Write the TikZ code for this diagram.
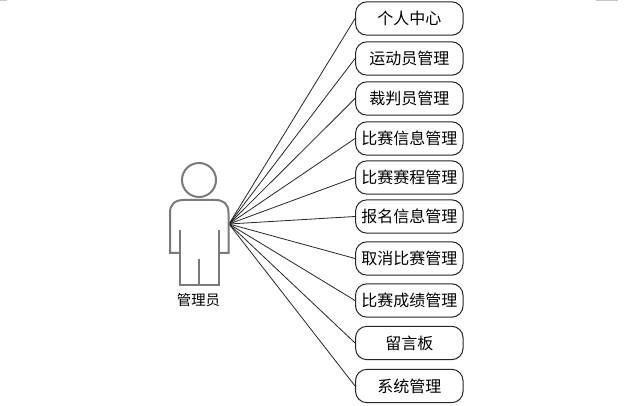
\documentclass[tikz,border=0pt]{standalone}
\usepackage{fontspec}
\newfontfamily\cjk{Noto Sans CJK SC}
\begin{document}
\begin{tikzpicture}[x=0.75pt,y=-0.75pt,
  fn/.style={draw=black!85,line width=0.75pt,rounded corners=8.5pt,minimum width=80.6pt,minimum height=25pt,inner sep=0pt,font=\cjk\fontsize{12}{14}\selectfont,text=black},
  link/.style={draw=black!85,line width=0.6pt},
  body/.style={draw=black!52,line width=1.5pt,line join=miter},
  corner/.style={draw=black!22,line width=0.75pt}]
\useasboundingbox (0,0) rectangle (637,406);
\fill[white] (0,0) rectangle (637,406);
\draw[corner] (0,0.4) -- (7,0.4);
\draw[corner] (596,0.4) -- (618,0.4);
\coordinate (hub) at (229,224);
\node[fn] (a1) at (409.3,18.5) {个人中心};
\node[fn] (a2) at (409.3,58.5) {运动员管理};
\node[fn] (a3) at (409.3,98.5) {裁判员管理};
\node[fn] (a4) at (409.3,138.5) {比赛信息管理};
\node[fn] (a5) at (409.3,177.5) {比赛赛程管理};
\node[fn] (a6) at (409.3,216.5) {报名信息管理};
\node[fn] (a7) at (409.3,258.5) {取消比赛管理};
\node[fn] (a8) at (409.3,300.5) {比赛成绩管理};
\node[fn] (a9) at (409.3,343) {留言板};
\node[fn] (a10) at (409.3,386) {系统管理};
\foreach \i in {1,...,10} \draw[link] (hub) -- (a\i.west);
\node[draw=black!52,line width=1.5pt,circle,minimum size=25.5pt,inner sep=0pt] (head) at (199,180) {};
\draw[body] (179.5,253) -- (170,253) -- (170,213)
  .. controls (170,204) and (175,200) .. (184,200) -- (215,200)
  .. controls (224,200) and (228.5,204) .. (228.5,213) -- (228.5,253) -- (218.5,253);
\draw[body] (179.5,230) -- (179.5,285) -- (218.5,285) -- (218.5,230);
\draw[body] (198.5,259) -- (198.5,285);
\node[font=\cjk\fontsize{10.8}{12}\selectfont,inner sep=0pt] (actor) at (198.5,300) {管理员};
\end{tikzpicture}
\end{document}
